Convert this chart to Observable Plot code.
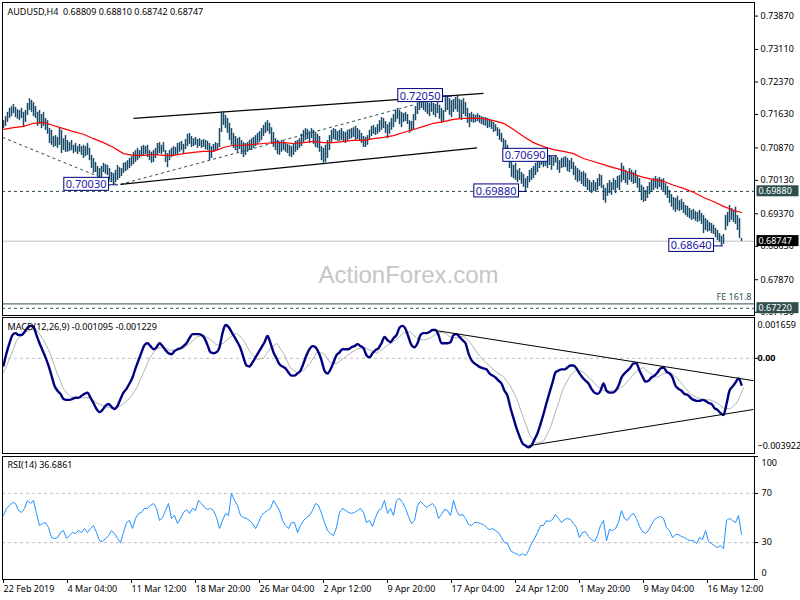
<!DOCTYPE html>
<html><head><meta charset="utf-8">
<script src="https://cdn.jsdelivr.net/npm/d3@7"></script>
<script src="https://cdn.jsdelivr.net/npm/@observablehq/plot@0.6"></script>
<style>
body{margin:0;background:#fff;}
#chart{position:relative;width:800px;height:600px;overflow:hidden;background:#fff;}
#chart svg{position:absolute;left:0;overflow:visible;}
</style></head><body><div id="chart"></div>
<script>
// ---------- DATA ----------
const symbolTitle = "AUDUSD,H4  0.68809 0.68810 0.68742 0.68747";
const macdTitle = "MACD(12,26,9) -0.001095 -0.001229";
const rsiTitle = "RSI(14) 36.6861";
const watermark = "ActionForex.com";

const barHigh = [
0.7149,0.7158,0.7168,0.7177,0.7181,0.7186,0.7179,0.7174,0.7172,0.7177,0.7168,0.7172,0.7188,0.7199,0.7195,0.7190,0.7181,0.7168,0.7172,0.7163,0.7168,
0.7154,0.7149,0.7131,0.7127,0.7113,0.7115,0.7111,0.7133,0.7127,0.7108,0.7115,0.7104,0.7099,0.7104,0.7093,0.7097,0.7090,0.7095,0.7090,0.7093,
0.7090,0.7097,0.7086,0.7070,0.7063,0.7054,0.7045,0.7040,0.7045,0.7052,0.7049,0.7047,0.7040,0.7031,0.7029,0.7036,0.7047,0.7042,0.7040,0.7052,
0.7054,0.7058,0.7063,0.7067,0.7077,0.7081,0.7086,0.7081,0.7090,0.7093,0.7090,0.7093,0.7081,0.7077,0.7081,0.7086,0.7097,0.7099,0.7093,0.7099,
0.7081,0.7074,0.7081,0.7086,0.7090,0.7088,0.7097,0.7099,0.7102,0.7095,0.7106,0.7118,0.7120,0.7113,0.7108,0.7111,0.7106,0.7108,0.7104,0.7106,
0.7104,0.7102,0.7097,0.7090,0.7095,0.7099,0.7097,0.7131,0.7168,0.7170,0.7161,0.7154,0.7143,0.7131,0.7120,0.7113,0.7108,0.7111,0.7104,0.7099,
0.7097,0.7099,0.7104,0.7108,0.7111,0.7115,0.7120,0.7124,0.7131,0.7138,0.7145,0.7149,0.7143,0.7133,0.7122,0.7108,0.7104,0.7099,0.7104,0.7102,
0.7097,0.7095,0.7093,0.7090,0.7095,0.7102,0.7104,0.7108,0.7118,0.7127,0.7131,0.7129,0.7124,0.7131,0.7127,0.7122,0.7118,0.7113,0.7090,0.7086,
0.7093,0.7104,0.7115,0.7127,0.7131,0.7129,0.7124,0.7127,0.7131,0.7124,0.7122,0.7127,0.7129,0.7131,0.7133,0.7136,0.7131,0.7127,0.7120,0.7113,
0.7111,0.7115,0.7127,0.7136,0.7138,0.7133,0.7140,0.7149,0.7156,0.7154,0.7147,0.7140,0.7145,0.7154,0.7163,0.7172,0.7177,0.7172,0.7168,0.7165,
0.7168,0.7163,0.7149,0.7147,0.7163,0.7181,0.7190,0.7199,0.7202,0.7195,0.7190,0.7195,0.7188,0.7193,0.7188,0.7186,0.7190,0.7184,0.7177,0.7172,
0.7205,0.7204,0.7199,0.7195,0.7197,0.7202,0.7204,0.7197,0.7195,0.7199,0.7190,0.7177,0.7165,0.7168,0.7163,0.7161,0.7165,0.7161,0.7158,0.7156,
0.7156,0.7154,0.7152,0.7149,0.7145,0.7140,0.7133,0.7129,0.7120,0.7108,0.7104,0.7093,0.7077,0.7058,0.7047,0.7052,0.7036,0.7040,0.7031,0.7027,
0.7017,0.7022,0.7036,0.7040,0.7045,0.7052,0.7058,0.7065,0.7069,0.7065,0.7067,0.7063,0.7069,0.7067,0.7065,0.7069,0.7065,0.7058,0.7063,0.7065,
0.7067,0.7063,0.7058,0.7063,0.7054,0.7045,0.7040,0.7036,0.7031,0.7033,0.7029,0.7017,0.7013,0.7008,0.7013,0.7008,0.7017,0.7027,0.7024,0.7002,
0.6995,0.7006,0.7013,0.7008,0.7017,0.7013,0.7022,0.7024,0.7052,0.7045,0.7036,0.7031,0.7040,0.7036,0.7031,0.7036,0.7024,0.7017,0.7002,0.6997,
0.6990,0.6999,0.7008,0.7013,0.7017,0.7022,0.7017,0.7020,0.7015,0.7017,0.7006,0.6999,0.6990,0.6981,0.6974,0.6972,0.6977,0.6967,0.6970,0.6963,
0.6956,0.6954,0.6949,0.6945,0.6947,0.6942,0.6940,0.6945,0.6938,0.6933,0.6926,0.6922,0.6917,0.6915,0.6911,0.6904,0.6899,0.6892,0.6886,0.6890,
0.6933,0.6940,0.6956,0.6949,0.6945,0.6952,0.6933,0.6926,0.6881
];
const barLow = [
0.7131,0.7136,0.7145,0.7154,0.7158,0.7165,0.7156,0.7152,0.7149,0.7154,0.7133,0.7145,0.7161,0.7172,0.7168,0.7158,0.7154,0.7136,0.7140,0.7131,0.7136,
0.7127,0.7118,0.7097,0.7093,0.7088,0.7090,0.7086,0.7093,0.7074,0.7081,0.7077,0.7077,0.7079,0.7081,0.7074,0.7077,0.7072,0.7077,0.7070,0.7063,
0.7067,0.7070,0.7058,0.7040,0.7029,0.7031,0.7022,0.7017,0.7020,0.7031,0.7027,0.7024,0.7013,0.7008,0.7003,0.7008,0.7013,0.7017,0.7022,0.7029,
0.7033,0.7036,0.7040,0.7045,0.7049,0.7054,0.7058,0.7063,0.7067,0.7070,0.7072,0.7065,0.7058,0.7052,0.7054,0.7063,0.7070,0.7074,0.7072,0.7077,
0.7054,0.7042,0.7058,0.7065,0.7067,0.7070,0.7072,0.7077,0.7081,0.7074,0.7083,0.7090,0.7095,0.7088,0.7090,0.7093,0.7086,0.7090,0.7086,0.7088,
0.7083,0.7081,0.7058,0.7063,0.7077,0.7079,0.7081,0.7088,0.7122,0.7138,0.7131,0.7120,0.7104,0.7093,0.7086,0.7081,0.7077,0.7083,0.7072,0.7065,
0.7070,0.7077,0.7081,0.7081,0.7086,0.7090,0.7095,0.7099,0.7104,0.7113,0.7120,0.7124,0.7118,0.7099,0.7088,0.7081,0.7072,0.7070,0.7077,0.7081,
0.7077,0.7074,0.7067,0.7065,0.7070,0.7077,0.7081,0.7086,0.7090,0.7099,0.7104,0.7106,0.7097,0.7108,0.7095,0.7088,0.7086,0.7077,0.7058,0.7052,
0.7054,0.7063,0.7081,0.7099,0.7106,0.7104,0.7102,0.7102,0.7104,0.7099,0.7097,0.7102,0.7106,0.7108,0.7111,0.7104,0.7106,0.7102,0.7097,0.7088,
0.7088,0.7093,0.7104,0.7113,0.7118,0.7115,0.7118,0.7122,0.7127,0.7131,0.7120,0.7108,0.7118,0.7127,0.7133,0.7145,0.7152,0.7140,0.7133,0.7145,
0.7147,0.7140,0.7120,0.7124,0.7127,0.7149,0.7163,0.7172,0.7177,0.7172,0.7168,0.7163,0.7158,0.7168,0.7161,0.7156,0.7165,0.7152,0.7143,0.7147,
0.7168,0.7172,0.7161,0.7156,0.7168,0.7174,0.7168,0.7154,0.7149,0.7163,0.7158,0.7143,0.7133,0.7145,0.7143,0.7145,0.7147,0.7143,0.7140,0.7138,
0.7136,0.7131,0.7133,0.7129,0.7122,0.7124,0.7113,0.7104,0.7099,0.7086,0.7081,0.7063,0.7040,0.7020,0.7017,0.7013,0.7008,0.7013,0.7004,0.6997,
0.6988,0.6995,0.7008,0.7013,0.7017,0.7024,0.7031,0.7040,0.7047,0.7042,0.7045,0.7040,0.7047,0.7036,0.7045,0.7052,0.7036,0.7029,0.7040,0.7042,
0.7042,0.7033,0.7031,0.7038,0.7024,0.7013,0.7008,0.7011,0.7004,0.6999,0.6997,0.6990,0.6986,0.6983,0.6988,0.6986,0.6990,0.6999,0.6995,0.6967,
0.6961,0.6977,0.6983,0.6979,0.6990,0.6983,0.6995,0.6990,0.7008,0.7013,0.7006,0.7002,0.7013,0.7008,0.7004,0.7006,0.6995,0.6986,0.6967,0.6963,
0.6965,0.6972,0.6981,0.6986,0.6990,0.6995,0.6992,0.6997,0.6990,0.6988,0.6979,0.6972,0.6961,0.6952,0.6945,0.6940,0.6945,0.6942,0.6945,0.6938,
0.6933,0.6929,0.6926,0.6922,0.6924,0.6920,0.6917,0.6920,0.6913,0.6892,0.6899,0.6895,0.6897,0.6892,0.6890,0.6883,0.6876,0.6872,0.6864,0.6867,
0.6899,0.6908,0.6917,0.6922,0.6917,0.6913,0.6899,0.6881,0.6874
];

// red moving average, one reading every 5 bars (last one on the last bar)
const maStep = 5;
const maValues = [
0.7129,0.7133,0.7136,0.7143,0.7145,0.7138,0.7131,0.7124,0.7118,0.7108,
0.7099,0.7088,0.7074,0.7070,0.7070,0.7072,0.7070,0.7070,0.7074,0.7077,
0.7079,0.7079,0.7088,0.7093,0.7093,0.7095,0.7097,0.7099,0.7099,0.7097,
0.7099,0.7102,0.7099,0.7099,0.7102,0.7104,0.7104,0.7108,0.7111,0.7115,
0.7122,0.7129,0.7136,0.7143,0.7147,0.7152,0.7154,0.7154,0.7154,0.7149,
0.7143,0.7129,0.7113,0.7099,0.7090,0.7083,0.7079,0.7074,0.7063,0.7056,
0.7049,0.7042,0.7036,0.7027,0.7020,0.7015,0.7011,0.7002,0.6995,0.6986,
0.6974,0.6965,0.6954,0.6945,0.6940
];

// MACD main line, one reading every 1.5 bars
const macdStep = 1.5;
const macdMain = [
-0.00030,0.00021,0.00063,0.00097,0.00105,0.00097,0.00097,0.00110,0.00127,0.00135,
0.00131,0.00097,0.00063,0.00034,0.00004,-0.00030,-0.00072,-0.00114,-0.00135,-0.00148,
-0.00169,-0.00173,-0.00173,-0.00169,-0.00164,-0.00164,-0.00156,-0.00148,-0.00143,-0.00164,
-0.00186,-0.00211,-0.00224,-0.00215,-0.00198,-0.00190,-0.00202,-0.00211,-0.00198,-0.00169,
-0.00143,-0.00127,-0.00105,-0.00080,-0.00042,-0.00008,0.00025,0.00055,0.00063,0.00051,
0.00038,0.00046,0.00063,0.00051,0.00034,0.00021,0.00017,0.00030,0.00038,0.00042,
0.00051,0.00063,0.00084,0.00101,0.00101,0.00101,0.00097,0.00084,0.00055,0.00025,
0.00021,0.00025,0.00046,0.00105,0.00139,0.00131,0.00110,0.00089,0.00067,0.00042,
0.00004,-0.00030,-0.00034,-0.00017,0.00004,0.00025,0.00046,0.00067,0.00093,0.00063,
0.00025,0,-0.00025,-0.00034,-0.00042,-0.00059,-0.00072,-0.00072,-0.00063,-0.00051,
-0.00021,0.00013,0.00038,0.00051,0.00046,0.00025,-0.00008,-0.00051,-0.00063,-0.00046,
-0.00017,0.00013,0.00025,0.00038,0.00038,0.00038,0.00046,0.00051,0.00059,0.00051,
0.00042,0.00013,0.00004,0.00021,0.00034,0.00042,0.00063,0.00089,0.00076,0.00067,
0.00084,0.00097,0.00127,
0.00135,0.00122,0.00089,0.00055,0.00046,0.00063,0.00097,0.00105,0.00105,0.00110,
0.00118,0.00118,0.00097,0.00063,0.00063,0.00063,0.00067,0.00097,0.00101,0.00089,
0.00076,0.00063,0.00021,-0.00008,-0.00021,-0.00030,-0.00038,-0.00042,-0.00046,-0.00063,
-0.00072,-0.00080,-0.00093,-0.00105,-0.00135,-0.00156,-0.00207,-0.00249,-0.00291,-0.00325,
-0.00354,-0.00363,-0.00371,-0.00363,-0.00338,-0.00312,-0.00274,-0.00232,-0.00186,-0.00143,
-0.00101,-0.00059,-0.00051,-0.00046,-0.00046,-0.00038,-0.00030,-0.00030,-0.00042,-0.00063,
-0.00080,-0.00093,-0.00105,-0.00127,-0.00143,-0.00148,-0.00135,-0.00105,-0.00135,-0.00143,
-0.00143,-0.00135,-0.00114,-0.00080,-0.00063,-0.00051,-0.00038,-0.00021,-0.00021,-0.00051,
-0.00076,-0.00097,-0.00093,-0.00080,-0.00072,-0.00059,-0.00042,-0.00038,-0.00055,-0.00063,
-0.00080,-0.00114,-0.00127,-0.00135,-0.00148,-0.00152,-0.00164,-0.00173,-0.00177,-0.00177,
-0.00173,-0.00177,-0.00186,-0.00190,-0.00207,-0.00215,-0.00228,-0.00236,-0.00190,-0.00135,
-0.00118,-0.00101,-0.00084,-0.00110
];

// MACD signal line, one reading every 10/3 bars
const signalStep = 10 / 3;
const macdSignal = [
-0.00059,0.00004,0.00076,0.00105,0.00118,0.00118,0.00076,0.00021,-0.00059,-0.00127,
-0.00160,-0.00164,-0.00164,-0.00164,-0.00186,-0.00198,-0.00207,-0.00207,-0.00190,-0.00164,
-0.00122,-0.00059,0.00004,0.00042,0.00046,0.00034,0.00034,0.00042,0.00063,0.00089,
0.00097,0.00080,0.00055,0.00063,0.00089,0.00105,0.00076,0.00025,-0.00004,0,
0.00042,0.00063,0.00021,-0.00038,-0.00059,-0.00051,-0.00021,0.00025,0.00021,-0.00017,
-0.00021,0,0.00021,0.00038,0.00046,0.00034,0.00021,0.00042,0.00063,0.00080,
0.00105,0.00110,0.00084,0.00076,0.00084,0.00105,0.00110,0.00089,0.00084,0.00093,
0.00067,0.00025,-0.00008,-0.00034,-0.00059,-0.00076,-0.00114,-0.00169,-0.00249,-0.00325,
-0.00354,-0.00346,-0.00291,-0.00207,-0.00122,-0.00072,-0.00046,-0.00059,-0.00084,-0.00114,
-0.00135,-0.00135,-0.00135,-0.00114,-0.00084,-0.00051,-0.00038,-0.00063,-0.00080,-0.00063,
-0.00059,-0.00080,-0.00114,-0.00148,-0.00164,-0.00173,-0.00173,-0.00186,-0.00207,-0.00211,
-0.00186,-0.00123
];

// RSI(14), one reading every 1.5 bars
const rsiStep = 1.5;
const rsiValues = [
52.0,57.8,60.2,62.7,61.8,56.1,54.5,57.8,64.3,61.8,
64.3,53.7,43.9,45.5,46.3,42.2,34.1,33.3,34.1,38.2,
39.8,33.3,35.7,38.2,37.3,39.8,38.2,41.4,38.2,41.4,
43.9,38.2,31.6,30.8,33.3,35.7,39.8,37.3,33.3,30.0,
38.2,46.3,48.0,41.4,49.6,53.7,54.5,57.8,57.8,60.2,
61.8,57.8,48.0,50.4,56.1,61.8,49.6,52.0,45.5,49.6,
54.5,56.9,53.7,57.8,56.1,64.3,61.8,58.6,56.9,57.8,
56.1,50.4,41.4,48.0,53.7,52.0,70.0,64.3,60.2,52.0,
50.4,49.6,48.0,45.5,41.4,46.3,52.0,54.5,56.1,57.8,
64.3,60.2,56.1,48.0,43.9,41.4,46.3,46.3,38.2,43.9,
48.0,50.4,52.0,56.1,61.8,60.2,53.7,46.3,39.8,37.3,
35.7,42.2,54.5,57.8,56.1,54.5,53.7,54.5,56.1,57.8,
54.5,46.3,48.0,43.1,50.4,56.1,57.8,64.3,53.7,57.8,
52.0,64.3,65.9,
62.7,57.8,51.2,45.5,48.0,60.2,63.5,61.0,58.6,60.2,
61.8,58.6,49.6,52.9,56.9,56.1,52.0,64.3,56.1,52.0,
52.9,49.6,44.7,43.9,46.3,46.3,45.5,44.7,42.2,40.6,
41.4,39.8,38.2,34.1,30.0,29.2,23.5,21.8,21.0,19.4,
21.0,19.4,23.5,29.2,33.3,38.2,43.9,43.9,48.0,47.1,
48.8,52.9,49.6,46.3,48.8,49.6,48.8,45.5,42.2,34.1,
38.2,39.0,34.9,32.4,30.8,35.7,43.9,48.0,31.6,40.6,
39.8,41.4,46.3,56.1,49.6,48.0,52.0,53.7,49.6,43.1,
39.0,37.3,39.8,44.7,48.8,50.4,51.2,49.6,42.2,39.8,
34.1,36.5,36.5,34.9,34.1,32.4,31.6,31.6,29.2,34.1,
32.4,39.8,30.8,29.2,27.6,25.9,27.6,25.1,48.0,49.6,
48.0,46.3,52.0,36.7
];

// time axis
const tickBars = [0, 32, 64, 96, 128, 160, 192, 224, 256, 288, 320, 352];
const tickLabels = ["22 Feb 2019","4 Mar 04:00","11 Mar 12:00","18 Mar 20:00","26 Mar 04:00","2 Apr 12:00",
  "9 Apr 20:00","17 Apr 04:00","24 Apr 12:00","1 May 20:00","9 May 04:00","16 May 12:00"];

// price axis
const priceTicks = [0.73870, 0.73110, 0.72370, 0.71630, 0.70870, 0.70130, 0.69370, 0.68630, 0.67870, 0.67130];
const priceDomain = [0.67056, 0.74179];
const supportLevel = 0.69880;
const lastPrice = 0.68747;
const fibLevel = 0.6732;
const fibText = "FE 161.8";
const targetLevel = 0.67220;
const axisMarkers = [
  {p: 0.69880, kind: "slate"},
  {p: 0.68747, kind: "black"},
  {p: 0.67220, kind: "slate"}
];

// pivot labels on the chart
const pivotLabels = [
  {p: 0.70030, boxEnd: 52.5, pivot: 57.5},
  {p: 0.72050, boxEnd: 219.5, pivot: 224.5},
  {p: 0.69880, boxEnd: 257.5, pivot: 262},
  {p: 0.70690, boxEnd: 272, pivot: 277},
  {p: 0.68640, boxEnd: 355, pivot: 360}
];

// trend lines (bar index, price)
const mainTrends = [
  {dash: false, i1: 65, p1: 0.7154, i2: 240, p2: 0.7211},
  {dash: false, i1: 58.5, p1: 0.7004, i2: 236.8, p2: 0.7087},
  {dash: true, i1: -0.5, p1: 0.7111, i2: 56, p2: 0.7006},
  {dash: true, i1: 58.5, p1: 0.7004, i2: 206, p2: 0.7186}
];
const macdTrends = [
  {i1: 216, v1: 0.00116, i2: 375, v2: -0.00093},
  {i1: 262.5, v1: -0.00364, i2: 375, v2: -0.00213}
];
const macdDomain = [-0.003922, 0.001659];

// ---------- BUILD ----------
const lastBar = barHigh.length - 1;
const xDomain = [-0.5, 375.5];
const fontFamily = "'Noto Sans', 'DejaVu Sans', sans-serif";
const baseStyle = {fontFamily, fontSize: "9px", color: "#000", background: "transparent", overflow: "visible"};
const fmt5 = d3.format(".5f");

const bars = barHigh.map((h, i) => ({i, h, l: barLow[i]}));
const maData = maValues.map((v, k) => ({i: Math.min(k * maStep, lastBar), v}));
const macdData = macdMain.map((v, k) => ({i: k * macdStep, v}));
const sigData = macdSignal.map((v, k) => ({i: k * signalStep, v}));
const rsiData = rsiValues.map((v, k) => ({i: k * rsiStep, v}));

const common = {width: 800, marginLeft: 2, marginRight: 46, style: baseStyle};
const rightEdge = () => xDomain[1];

const main = Plot.plot({
  ...common, height: 316, marginTop: 2, marginBottom: 1,
  x: {domain: xDomain, axis: null},
  y: {domain: priceDomain, axis: null},
  marks: [
    Plot.text([watermark], {frameAnchor: "bottom", dx: 30, dy: -33, fontSize: 24, fill: "#c6c6c6",
      fontFamily: "'Liberation Sans', Arial, sans-serif"}),
    Plot.ruleY([supportLevel], {stroke: "#2f4f4f", strokeDasharray: "3,3"}),
    Plot.ruleY([lastPrice], {stroke: "#c0c0c0"}),
    Plot.ruleY([fibLevel], {stroke: "#2f4f4f"}),
    Plot.ruleY([targetLevel], {stroke: "#2f4f4f", strokeDasharray: "3,3"}),
    Plot.text([{p: fibLevel, t: fibText}], {x: rightEdge, y: "p", text: "t", textAnchor: "end", dx: -3, dy: -7, fill: "#2f4f4f"}),
    Plot.link(mainTrends.filter(d => d.dash), {x1: "i1", y1: "p1", x2: "i2", y2: "p2", stroke: "#2f4f4f", strokeDasharray: "3,3"}),
    Plot.link(mainTrends.filter(d => !d.dash), {x1: "i1", y1: "p1", x2: "i2", y2: "p2", stroke: "#000", strokeWidth: 1.2}),
    Plot.ruleX(bars, {x: "i", y1: "l", y2: "h", stroke: "#194a68", strokeWidth: 1.5}),
    Plot.line(maData, {x: "i", y: "v", stroke: "#ff0000", strokeWidth: 1.2}),
    Plot.ruleY(pivotLabels, {y: "p", x1: "boxEnd", x2: "pivot", stroke: "#000080"}),
    Plot.text(pivotLabels, {x: "boxEnd", y: "p", text: d => fmt5(d.p), textAnchor: "end", dx: -2,
      fill: "#1a1aa6", fontSize: 11, ariaDescription: "box-navy"}),
    Plot.frame({stroke: "#000"}),
    Plot.text([symbolTitle], {frameAnchor: "top-left", dx: 5, dy: 6, lineAnchor: "top", textAnchor: "start", fill: "#000"}),
    Plot.axisY({anchor: "right", ticks: priceTicks, tickFormat: fmt5, tickSize: 3, tickPadding: 3, label: null}),
    Plot.text(axisMarkers.filter(d => d.kind === "slate"), {x: rightEdge, y: "p", text: d => fmt5(d.p), textAnchor: "start", dx: 4, fill: "#fff", ariaDescription: "box-slate"}),
    Plot.text(axisMarkers.filter(d => d.kind === "black"), {x: rightEdge, y: "p", text: d => fmt5(d.p), textAnchor: "start", dx: 4, fill: "#fff", ariaDescription: "box-black"})
  ]
});

const macd = Plot.plot({
  ...common, height: 136, marginTop: 1, marginBottom: 1,
  x: {domain: xDomain, axis: null},
  y: {domain: macdDomain, axis: null},
  marks: [
    Plot.ruleY([0], {stroke: "#c0c0c0", strokeDasharray: "3,3"}),
    Plot.line(sigData, {x: "i", y: "v", stroke: "#b4b4b4", strokeWidth: 1}),
    Plot.line(macdData, {x: "i", y: "v", stroke: "#000080", strokeWidth: 2.4, curve: "monotone-x"}),
    Plot.link(macdTrends, {x1: "i1", y1: "v1", x2: "i2", y2: "v2", stroke: "#000", strokeWidth: 1}),
    Plot.frame({stroke: "#000", insetTop: -1, insetBottom: -1}),
    Plot.text([macdTitle], {frameAnchor: "top-left", dx: 5, dy: 5, lineAnchor: "top", textAnchor: "start", fill: "#000"}),
    Plot.axisY({anchor: "right", ticks: [0], tickFormat: () => "", tickSize: 3, label: null}),
    Plot.text([macdDomain[1]], {x: rightEdge, y: d => d, text: d => d3.format(".6f")(d), textAnchor: "start", dx: 3, dy: 7}),
    Plot.text([0], {x: rightEdge, y: d => d, text: () => "0.00", textAnchor: "start", dx: 3, fontWeight: "bold"}),
    Plot.text([macdDomain[0]], {x: rightEdge, y: d => d, text: d => d3.format(".6f")(d), textAnchor: "start", dx: 3, dy: -6})
  ]
});

const rsi = Plot.plot({
  ...common, height: 144, marginTop: 0, marginBottom: 21,
  x: {domain: xDomain},
  y: {domain: [0, 100], axis: null},
  marks: [
    Plot.ruleY([70, 30], {stroke: "#c0c0c0", strokeDasharray: "3,3"}),
    Plot.line(rsiData, {x: "i", y: "v", stroke: "#1e90ff", strokeWidth: 1}),
    Plot.frame({stroke: "#000"}),
    Plot.text([rsiTitle], {frameAnchor: "top-left", dx: 5, dy: 5, lineAnchor: "top", textAnchor: "start", fill: "#000"}),
    Plot.axisY({anchor: "right", ticks: [70, 30], tickSize: 3, tickPadding: 4, label: null}),
    Plot.axisY({anchor: "right", ticks: [100, 0], tickSize: 3, tickFormat: () => "", label: null}),
    Plot.text([100], {x: rightEdge, y: d => d, text: d => String(d), textAnchor: "start", dx: 7, dy: 7}),
    Plot.text([0], {x: rightEdge, y: d => d, text: d => String(d), textAnchor: "start", dx: 7, dy: -6}),
    Plot.axisX({ticks: tickBars, tickFormat: d => tickLabels[tickBars.indexOf(d)], textAnchor: "start", tickSize: 4, tickPadding: 2, label: null})
  ]
});

const chart = document.getElementById("chart");
[[main, 0], [macd, 317], [rsi, 456]].forEach(([svg, top]) => {
  svg.style.top = top + "px";
  chart.appendChild(svg);
});

// draw a box behind each label text, sized from the text's own bounding box
function boxify(svg, label, opt) {
  svg.querySelectorAll(`g[aria-description="${label}"] text`).forEach(t => {
    const b = t.getBBox();
    const cy = b.y + b.height / 2;
    const r = document.createElementNS("http://www.w3.org/2000/svg", "rect");
    const w = opt.width != null ? opt.width : b.width + opt.padL + opt.padR;
    r.setAttribute("x", b.x - opt.padL);
    r.setAttribute("y", cy - opt.h / 2);
    r.setAttribute("width", w);
    r.setAttribute("height", opt.h);
    r.setAttribute("fill", opt.fill);
    if (opt.stroke) { r.setAttribute("stroke", opt.stroke); r.setAttribute("stroke-width", 1); }
    const tr = t.getAttribute("transform");
    if (tr) r.setAttribute("transform", tr);
    t.parentNode.insertBefore(r, t);
  });
}
boxify(main, "box-navy", {padL: 2, padR: 2, h: 13, fill: "#fff", stroke: "#000080"});
boxify(main, "box-slate", {padL: 2, width: 42, h: 11, fill: "#2f4f4f"});
boxify(main, "box-black", {padL: 2, width: 42, h: 11, fill: "#000"});
</script>
</body></html>
